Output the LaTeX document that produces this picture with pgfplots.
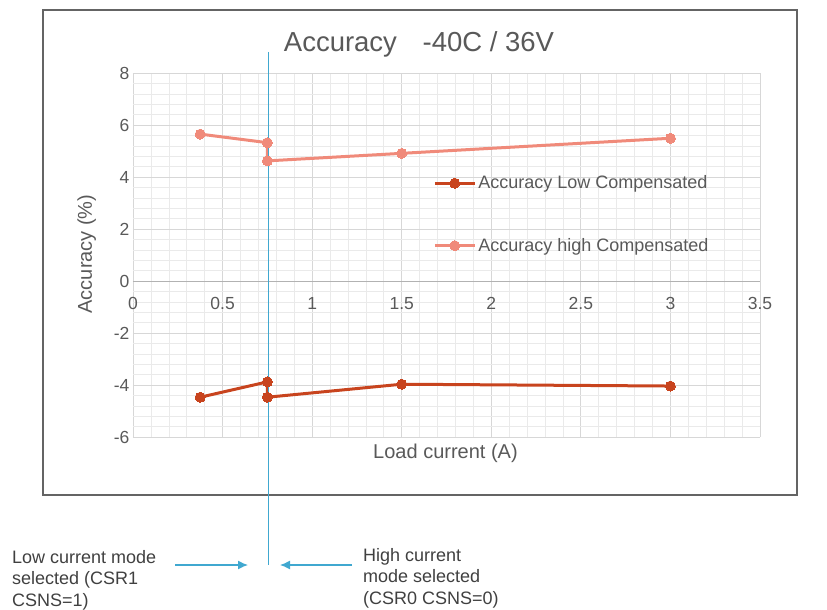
\documentclass[border=0pt]{standalone}
\usepackage{pgfplots}
\pgfplotsset{compat=1.18}
\usepackage{fontspec}
\setmainfont{Liberation Sans}
\usetikzlibrary{arrows.meta}
\definecolor{lowc}{RGB}{200,68,30}
\definecolor{highc}{RGB}{240,138,122}
\definecolor{vline}{RGB}{64,168,208}
\definecolor{txt}{RGB}{89,89,89}
\definecolor{ann}{RGB}{64,64,64}
\definecolor{majg}{RGB}{215,215,215}
\definecolor{ming}{RGB}{234,234,234}
\definecolor{frame}{RGB}{100,100,100}
\begin{document}
\begin{tikzpicture}
\path[use as bounding box] (-133pt,-329pt) rectangle (694pt,281pt);
\draw[frame, line width=1.6pt] (-90pt,271pt) rectangle (664pt,-214pt);
\begin{axis}[
  anchor=origin, at={(0pt,0pt)},
  x=179.14pt, y=26pt,
  xmin=0, xmax=3.5, ymin=-6, ymax=8,
  axis x line=middle, axis y line=left,
  x axis line style={-, draw=gray!60, line width=0.8pt},
  y axis line style={draw=none},
  hide obscured x ticks=false, hide obscured y ticks=false,
  xtick={0,0.5,...,3.5}, ytick={-6,-4,...,8},
  minor x tick num=4, minor y tick num=4,
  grid=both,
  major grid style={majg, line width=0.8pt},
  minor grid style={ming, line width=0.6pt},
  major tick length=0pt, minor tick length=0pt,
  /pgf/number format/assume math mode=true,
  ticklabel style={font=\fontsize{17.5}{20}\selectfont, text=txt},
  xticklabel style={yshift=-13pt},
  clip=false,
  legend style={at={(axis cs:1.675,2.56)}, anchor=west, draw=none, fill=none,
    font=\fontsize{18}{21}\selectfont, text=txt, row sep=44pt, inner sep=0pt,
    cells={anchor=west}},
  legend image code/.code={\draw[mark repeat=2,mark phase=2,#1] plot coordinates {(0pt,0pt)(20pt,0pt)(40pt,0pt)};},
]
\addplot[lowc, line width=3pt, mark=*, mark size=5pt, mark options={fill=lowc, draw=lowc, line width=0pt}]
  coordinates {(0.375,-4.47) (0.75,-3.88) (0.75,-4.47) (1.5,-3.97) (3,-4.04)};
\addlegendentry{Accuracy Low Compensated}
\addplot[highc, line width=3pt, mark=*, mark size=5pt, mark options={fill=highc, draw=highc, line width=0pt}]
  coordinates {(0.375,5.65) (0.75,5.32) (0.75,4.62) (1.5,4.91) (3,5.49)};
\addlegendentry{Accuracy high Compensated}
\draw[vline, line width=1.3pt] (axis cs:0.755,8.81) -- (axis cs:0.755,-10.92);
\end{axis}
\node[anchor=base, text=txt, font=\fontsize{27.5}{30}\selectfont, inner sep=0pt] at (286pt,229pt) {Accuracy\hspace{18pt} -40C / 36V};
\node[anchor=base, text=txt, font=\fontsize{20}{24}\selectfont, inner sep=0pt] at (312.5pt,-177pt) {Load current (A)};
\node[anchor=base, rotate=90, text=txt, font=\fontsize{20}{24}\selectfont, inner sep=0pt] at (-41pt,27pt) {Accuracy (\%)};
\draw[vline, line width=1.3pt, -{Latex[length=10pt,width=9pt]}] (42pt,-284pt) -- (115pt,-284pt);
\draw[vline, line width=1.3pt, -{Latex[length=10pt,width=9pt]}] (219pt,-284pt) -- (147pt,-284pt);
\begin{scope}[every node/.style={anchor=base west, text=ann, font=\fontsize{18}{22}\selectfont, inner sep=0pt}]
\node at (-121pt,-282pt) {Low current mode};
\node at (-121pt,-303.5pt) {selected (CSR1};
\node at (-121pt,-325pt) {CSNS=1)};
\node at (230pt,-280pt) {High current};
\node at (230pt,-301.5pt) {mode selected};
\node at (230pt,-323pt) {(CSR0 CSNS=0)};
\end{scope}
\end{tikzpicture}
\end{document}
